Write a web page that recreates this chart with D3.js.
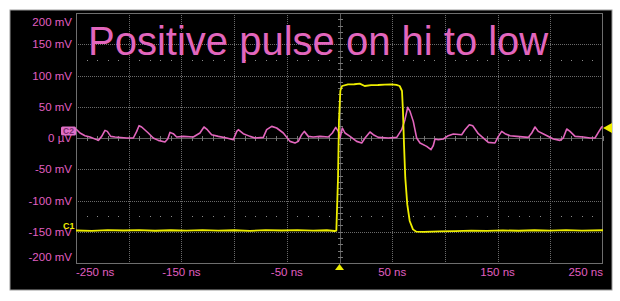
<!DOCTYPE html>
<html>
<head>
<meta charset="utf-8">
<script src="https://cdn.jsdelivr.net/npm/d3@7/dist/d3.min.js"></script>
<style>
  html, body { margin: 0; padding: 0; background: #ffffff; }
  svg { display: block; }
</style>
</head>
<body>
<svg id="chart" width="620" height="301"></svg>
<script>
// ---- data ----
const title = "Positive pulse on hi to low";
const xTickValues = [-250, -150, -50, 50, 150, 250];
const xTickLabels = ["-250 ns", "-150 ns", "-50 ns", "50 ns", "150 ns", "250 ns"];
const yTickValues = [200, 150, 100, 50, 0, -50, -100, -150, -200];
const yTickLabels = ["200 mV", "150 mV", "100 mV", "50 mV", "0 µV", "-50 mV", "-100 mV", "-150 mV", "-200 mV"];
const xGridValues = [-250, -200, -150, -100, -50, 0, 50, 100, 150, 200, 250];
const yGridValues = [200, 150, 100, 50, 0, -50, -100, -150, -200];
const refDotLevels = [125, -125];
const triggerLevel = 16;
const triggerTime = 0;

// C1 (yellow) : [time ns, mV]
const c1 = [
  [-250, -148], [-235, -148.5], [-220, -147.5], [-205, -148], [-190, -147.3], [-175, -148.4],
  [-160, -147.6], [-145, -148.3], [-130, -147.4], [-115, -148.2], [-100, -147.6], [-85, -148.5],
  [-70, -147.5], [-55, -148], [-40, -147.4], [-25, -148.3], [-12, -147.6], [-4.6, -148.8],
  [-3.0, -148.3], [-1.4, -63.5], [-0.5, 27.7], [0.8, 75.7], [2.4, 83.2], [8.1, 85.8],
  [14, 86], [19.2, 86.9], [23.9, 83.2], [30, 84.5], [36.5, 84.8], [43, 85.5], [49.1, 85.8],
  [54, 85], [57.1, 83.2], [59.3, 75.2], [60.2, 43.7], [61.2, -10.2], [62.4, -63.5],
  [64.3, -106.2], [66.6, -132.8], [69.7, -146.2], [72.9, -149.9], [80, -150.2], [95, -149.5],
  [110, -149], [125, -148.2], [140, -148.6], [155, -147.8], [170, -148.4], [185, -147.6],
  [200, -148.3], [215, -147.5], [230, -148.2], [250, -147.6]
];

// C2 (pink) : [time ns, mV]
const c2 = [
  [-250, 14.4], [-246.2, 8], [-241.5, 3.7], [-236.7, 1.6], [-228.8, -3.8], [-225.6, 2.6],
  [-222.5, 12.2], [-220.3, 10.6], [-217.1, 2.6], [-213, 1.6], [-201.9, 0], [-195.6, 0],
  [-192.4, 10.6], [-190.2, 19.7], [-187.7, 17.6], [-181.4, 8], [-176.7, 0], [-171.9, -3.8],
  [-165.6, -6.4], [-163, -1.6], [-160.8, 9], [-157.7, 6.9], [-154.5, 1.6], [-148.2, 2.6],
  [-138.7, 1.6], [-132.4, 8], [-128.6, 17.6], [-125.4, 13.3], [-121.3, 5.3], [-115, 2.6],
  [-107, 0], [-100.8, -2.7], [-97.5, 10.6], [-96, 13.3], [-91.3, 6.9], [-84.9, 2.6],
  [-80.2, 0], [-72.3, 1], [-69.1, 13.3], [-64.3, 18.6], [-59.6, 16], [-53.3, 8],
  [-47, -5.4], [-42.2, -8], [-39.1, -5.4], [-35.9, 5.3], [-33.4, 10.6], [-29.6, 2.6],
  [-24.9, 1.6], [-18.5, 2.6], [-10.6, 1.6], [-6.8, 8], [-3.6, 17], [-1.1, 10.6],
  [0.5, 0], [2.7, 16], [5.2, 8], [10, 2.6], [16.3, -5.4], [21.1, -8], [24.2, 0],
  [28.9, 9.6], [32.1, 5.3], [36.8, 1], [46.3, 0], [54.3, 1], [59, 13.3], [62.1, 29.3],
  [64.7, 49], [66.9, 42.6], [70, 26.6], [73.2, 0], [76.4, -8], [82.7, -13.4], [86.8, -18.7],
  [89, -12], [90.6, -1.6], [93.7, -2.7], [98.5, -1.6], [103.2, 3.7], [108, 6.4],
  [115.9, 5.3], [119.1, 13.3], [123.2, 21.3], [126.4, 19.7], [131.7, 6.9], [141.2, -7],
  [147.5, -8], [150.7, 2.6], [153.9, 10.6], [157, 6.9], [161.8, 3.7], [168.1, 2.6],
  [179.1, 1], [182.4, 8], [185.5, 17.6], [188.6, 10.6], [195, 5.3], [202.9, -1.6],
  [209.2, -3.8], [212.3, 0], [215.6, 14.4], [218.7, 10.6], [223.5, 2.6], [231.3, 1.6],
  [237.7, 0], [242.4, 0], [245.6, 9], [248.8, 17.6], [250, 18.6]
];

// ---- layout ----
const W = 620, H = 301;
const plot = { left: 76, right: 603, top: 13, bottom: 263 };
const pink = "#e266bd";
const labelPink = "#e05fc0";
const yellow = "#eeee00";
const gridCol = "#6a6a6a";

const svg = d3.select("#chart");
const x = d3.scaleLinear().domain([-250, 250]).range([plot.left, plot.right]);
const y = d3.scaleLinear().domain([-200, 200]).range([plot.bottom, plot.top]);

// outer frame
svg.append("rect").attr("x", 0).attr("y", 0).attr("width", W).attr("height", H).attr("fill", "#fff");
svg.append("rect").attr("x", 10).attr("y", 10).attr("width", 602).attr("height", 280)
  .attr("fill", "#000").attr("stroke", "#9a9a9a").attr("stroke-width", 1);

// grid
const grid = svg.append("g");
grid.selectAll("line.vg").data(xGridValues.filter(v => v > -250 && v < 250)).join("line")
  .attr("x1", d => Math.round(x(d)) + 0.5).attr("x2", d => Math.round(x(d)) + 0.5)
  .attr("y1", plot.top).attr("y2", plot.bottom)
  .attr("stroke", gridCol).attr("stroke-width", 1).attr("stroke-dasharray", "1,1");
grid.selectAll("line.hg").data(yGridValues.filter(v => v > -200 && v < 200)).join("line")
  .attr("x1", plot.left).attr("x2", plot.right)
  .attr("y1", d => Math.round(y(d)) + 0.5).attr("y2", d => Math.round(y(d)) + 0.5)
  .attr("stroke", gridCol).attr("stroke-width", 1).attr("stroke-dasharray", "1,1");

// centre solid axes with minor ticks
const cx = Math.round(x(0)) + 0.5, cy = Math.round(y(0)) + 0.5;
grid.append("line").attr("x1", plot.left).attr("x2", plot.right).attr("y1", cy).attr("y2", cy)
  .attr("stroke", "#5c5c5c").attr("stroke-width", 1);
grid.append("line").attr("x1", cx).attr("x2", cx).attr("y1", plot.top).attr("y2", plot.bottom)
  .attr("stroke", "#5c5c5c").attr("stroke-width", 1);
const minorX = d3.range(-250, 251, 10);
const minorY = d3.range(-200, 201, 10);
grid.selectAll("line.mx").data(minorX).join("line")
  .attr("x1", d => Math.round(x(d)) + 0.5).attr("x2", d => Math.round(x(d)) + 0.5)
  .attr("y1", cy - 2.5).attr("y2", cy + 2.5).attr("stroke", "#777").attr("stroke-width", 1);
grid.selectAll("line.my").data(minorY).join("line")
  .attr("x1", cx - 2.5).attr("x2", cx + 2.5)
  .attr("y1", d => Math.round(y(d)) + 0.5).attr("y2", d => Math.round(y(d)) + 0.5)
  .attr("stroke", "#777").attr("stroke-width", 1);

// reference dot rows
refDotLevels.forEach(lv => {
  grid.selectAll(null).data(minorX.filter(t => t % 50 !== 0)).join("rect")
    .attr("x", d => Math.round(x(d))).attr("y", Math.round(y(lv)))
    .attr("width", 1).attr("height", 1).attr("fill", "#8a8a8a");
});

// plot border
svg.append("rect").attr("x", plot.left + 0.5).attr("y", plot.top + 0.5)
  .attr("width", plot.right - plot.left - 1).attr("height", plot.bottom - plot.top)
  .attr("fill", "none").attr("stroke", "#6e6e6e").attr("stroke-width", 1);

// title
svg.append("text").attr("x", 88).attr("y", 55).text(title)
  .attr("font-family", "Liberation Sans, Arial, sans-serif").attr("font-size", 40)
  .attr("fill", pink);

// traces
const line = d3.line().x(d => x(d[0])).y(d => y(d[1]));
svg.append("path").datum(c2).attr("d", line).attr("fill", "none")
  .attr("stroke", pink).attr("stroke-width", 1.6).attr("stroke-linejoin", "round");
svg.append("path").datum(c1).attr("d", line).attr("fill", "none")
  .attr("stroke", yellow).attr("stroke-width", 1.8).attr("stroke-linejoin", "round");

// axis labels
const font = "Liberation Sans, Arial, sans-serif";
svg.append("g").selectAll("text").data(yTickValues).join("text")
  .attr("x", 72)
  .attr("y", d => Math.min(Math.max(y(d), plot.top + 8.5), plot.bottom - 6))
  .attr("dy", "0.36em")
  .attr("text-anchor", "end")
  .attr("font-family", font).attr("font-size", 11.5).attr("fill", labelPink)
  .text((d, i) => yTickLabels[i]);
svg.append("g").selectAll("text").data(xTickValues).join("text")
  .attr("x", (d, i) => i === 0 ? plot.left : (i === xTickValues.length - 1 ? plot.right : x(d)))
  .attr("y", 276)
  .attr("text-anchor", (d, i) => i === 0 ? "start" : (i === xTickValues.length - 1 ? "end" : "middle"))
  .attr("font-family", font).attr("font-size", 11.5).attr("fill", labelPink)
  .text((d, i) => xTickLabels[i]);

// C2 marker
const c2y = y(0) - 7;
svg.append("rect").attr("x", 61).attr("y", c2y - 4.5).attr("width", 15).attr("height", 9)
  .attr("rx", 1.5).attr("fill", "#e070c8");
svg.append("text").attr("x", 68.5).attr("y", c2y + 3).attr("text-anchor", "middle")
  .attr("font-family", font).attr("font-size", 8.5).attr("font-weight", "bold")
  .attr("fill", "#7a2a6a").text("C2");

// C1 marker
svg.append("text").attr("x", 63).attr("y", y(-150) - 3)
  .attr("font-family", font).attr("font-size", 9).attr("font-weight", "bold")
  .attr("fill", yellow).text("C1");

// trigger level marker (right)
const ty = y(triggerLevel);
svg.append("path")
  .attr("d", `M${plot.right},${ty} L${plot.right + 9},${ty - 5} L${plot.right + 9},${ty + 5} Z`)
  .attr("fill", yellow);
// trigger position marker (bottom)
const tx = x(triggerTime);
svg.append("path")
  .attr("d", `M${tx},${plot.bottom + 1} L${tx + 4.5},${plot.bottom + 7} L${tx - 4.5},${plot.bottom + 7} Z`)
  .attr("fill", yellow);
</script>
</body>
</html>
